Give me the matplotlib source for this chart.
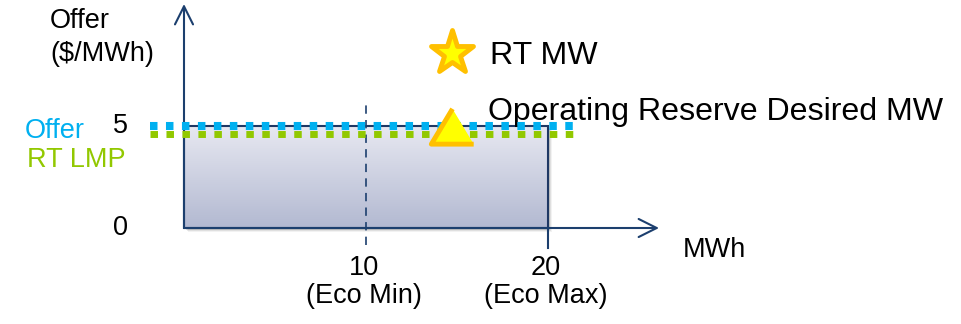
import numpy as np
import matplotlib
matplotlib.use("Agg")
import matplotlib.pyplot as plt
from matplotlib.patches import FancyArrowPatch, Rectangle
from matplotlib.markers import MarkerStyle
import matplotlib.transforms as mtransforms

plt.rcParams["font.family"] = ["Liberation Sans", "DejaVu Sans"]
plt.rcParams["lines.scale_dashes"] = False

# ---- data ----
offer_price = 5          # $/MWh
rt_lmp = 5               # $/MWh
eco_min = 10             # MWh
eco_max = 20             # MWh
y_ticks = [0, 5]
x_ticks = [10, 20]
x_tick_notes = ["(Eco Min)", "(Eco Max)"]
rt_mw_legend = (14.75, 8.58)          # legend star position
reserve_desired = (14.7, 5)           # operating reserve desired MW point

W, H = 961, 324
fig = plt.figure(figsize=(W / 100, H / 100), dpi=100)
ax = fig.add_axes([0, 0, 1, 1])

# pixel scale of the chart area
px_x0, px_per_x = 184.0, 18.2
px_y0, px_per_y = 228.0, 20.4
ax.set_xlim(-px_x0 / px_per_x, (W - px_x0) / px_per_x)
ax.set_ylim(-(H - px_y0) / px_per_y, px_y0 / px_per_y)
ax.axis("off")

navy = "#1c3f6e"
rect_edge = "#1f3864"
blue = "#00b0f0"
green = "#92c800"

def px_offset(dx, dy):
    return ax.transData + mtransforms.ScaledTranslation(dx / 100, dy / 100, fig.dpi_scale_trans)

# offer block with soft shadow and vertical gradient
for k, a in [(4, 0.05), (3, 0.08), (2, 0.12)]:
    ax.add_patch(Rectangle((0, 0), eco_max, offer_price, facecolor="#000000",
                           edgecolor="none", alpha=a, transform=px_offset(k, -k), zorder=1))
grad = np.linspace(0, 1, 256).reshape(-1, 1)
top = np.array([0.906, 0.910, 0.945])
bot = np.array([0.700, 0.725, 0.820])
img = top[None, None, :] * (1 - grad[:, :, None]) + bot[None, None, :] * grad[:, :, None]
ax.imshow(img, extent=[0, eco_max, 0, offer_price], aspect="auto", origin="upper", zorder=2)
ax.add_patch(Rectangle((0, 0), eco_max, offer_price, facecolor="none",
                       edgecolor=rect_edge, linewidth=1.5, zorder=3))

# axes arrows
y_top = 10.98
x_right = 26.1
for start, end in [((0, 0), (0, y_top)), ((0, 0), (x_right, 0))]:
    ax.add_patch(FancyArrowPatch(start, end, arrowstyle="->,head_length=13,head_width=6.5",
                                 mutation_scale=1, color=navy, linewidth=1.5,
                                 shrinkA=0, shrinkB=0, zorder=4))

# eco min dashed marker and eco max tick
ax.plot([eco_min, eco_min], [-0.83, 6.13], color=navy, linewidth=1.2,
        dashes=(6, 4.5), zorder=4)
ax.plot([eco_max, eco_max], [-0.98, 0], color=navy, linewidth=1.5, zorder=4)

# offer and RT LMP dotted price lines
x_dot = [-1.868, 21.4]
ax.plot(x_dot, [offer_price] * 2, color=blue, linewidth=5.8, dashes=(5.4, 6.1),
        solid_capstyle="butt", dash_capstyle="butt", transform=px_offset(0, 0), zorder=5)
ax.plot(x_dot, [rt_lmp] * 2, color=green, linewidth=5.0, dashes=(5.4, 6.1),
        solid_capstyle="butt", dash_capstyle="butt", transform=px_offset(0, -7.5), zorder=5)

# markers
star = MarkerStyle("*", joinstyle="round")
ax.plot(*rt_mw_legend, marker=star, markersize=32.5, markerfacecolor="#ffff00",
        markeredgecolor="#ffc000", markeredgewidth=3.5, linestyle="none", zorder=6)
tri = MarkerStyle([(0, 1), (-1.2, -1), (1.2, -1)], joinstyle="round")
ax.plot(*reserve_desired, marker=tri, markersize=30.5, markerfacecolor="#ffff00",
        markeredgecolor="#ffc000", markeredgewidth=3.5, linestyle="none", zorder=6)

# text
def dx(px):
    return (px - px_x0) / px_per_x

def dy(py):
    return (px_y0 - py) / px_per_y

big = 23.1
small = 19.5
ax.text(dx(490), dy(63.5), "RT MW", fontsize=big, va="baseline", ha="left")
ax.text(dx(488), dy(120), "Operating Reserve Desired MW", fontsize=big, va="baseline", ha="left")

ax.text(dx(50), dy(28.5), "Offer", fontsize=small, va="baseline", ha="left")
ax.text(dx(50), dy(61), "($/MWh)", fontsize=small, va="baseline", ha="left")

ax.text(dx(25), dy(138), "Offer", fontsize=small, va="baseline", ha="left", color=blue)
ax.text(dx(27), dy(167), "RT LMP", fontsize=small, va="baseline", ha="left", color=green)

for v in y_ticks:
    ax.text(dx(128), v, str(v), fontsize=small, va="center", ha="right")

for v, note in zip(x_ticks, x_tick_notes):
    ax.text(v - 0.1, dy(275), str(v), fontsize=small, va="baseline", ha="center")
    ax.text(v - 0.1, dy(303), note, fontsize=small, va="baseline", ha="center")

ax.text(dx(683), dy(257), "MWh", fontsize=small, va="baseline", ha="left")

fig.savefig("out.png", dpi=100)
